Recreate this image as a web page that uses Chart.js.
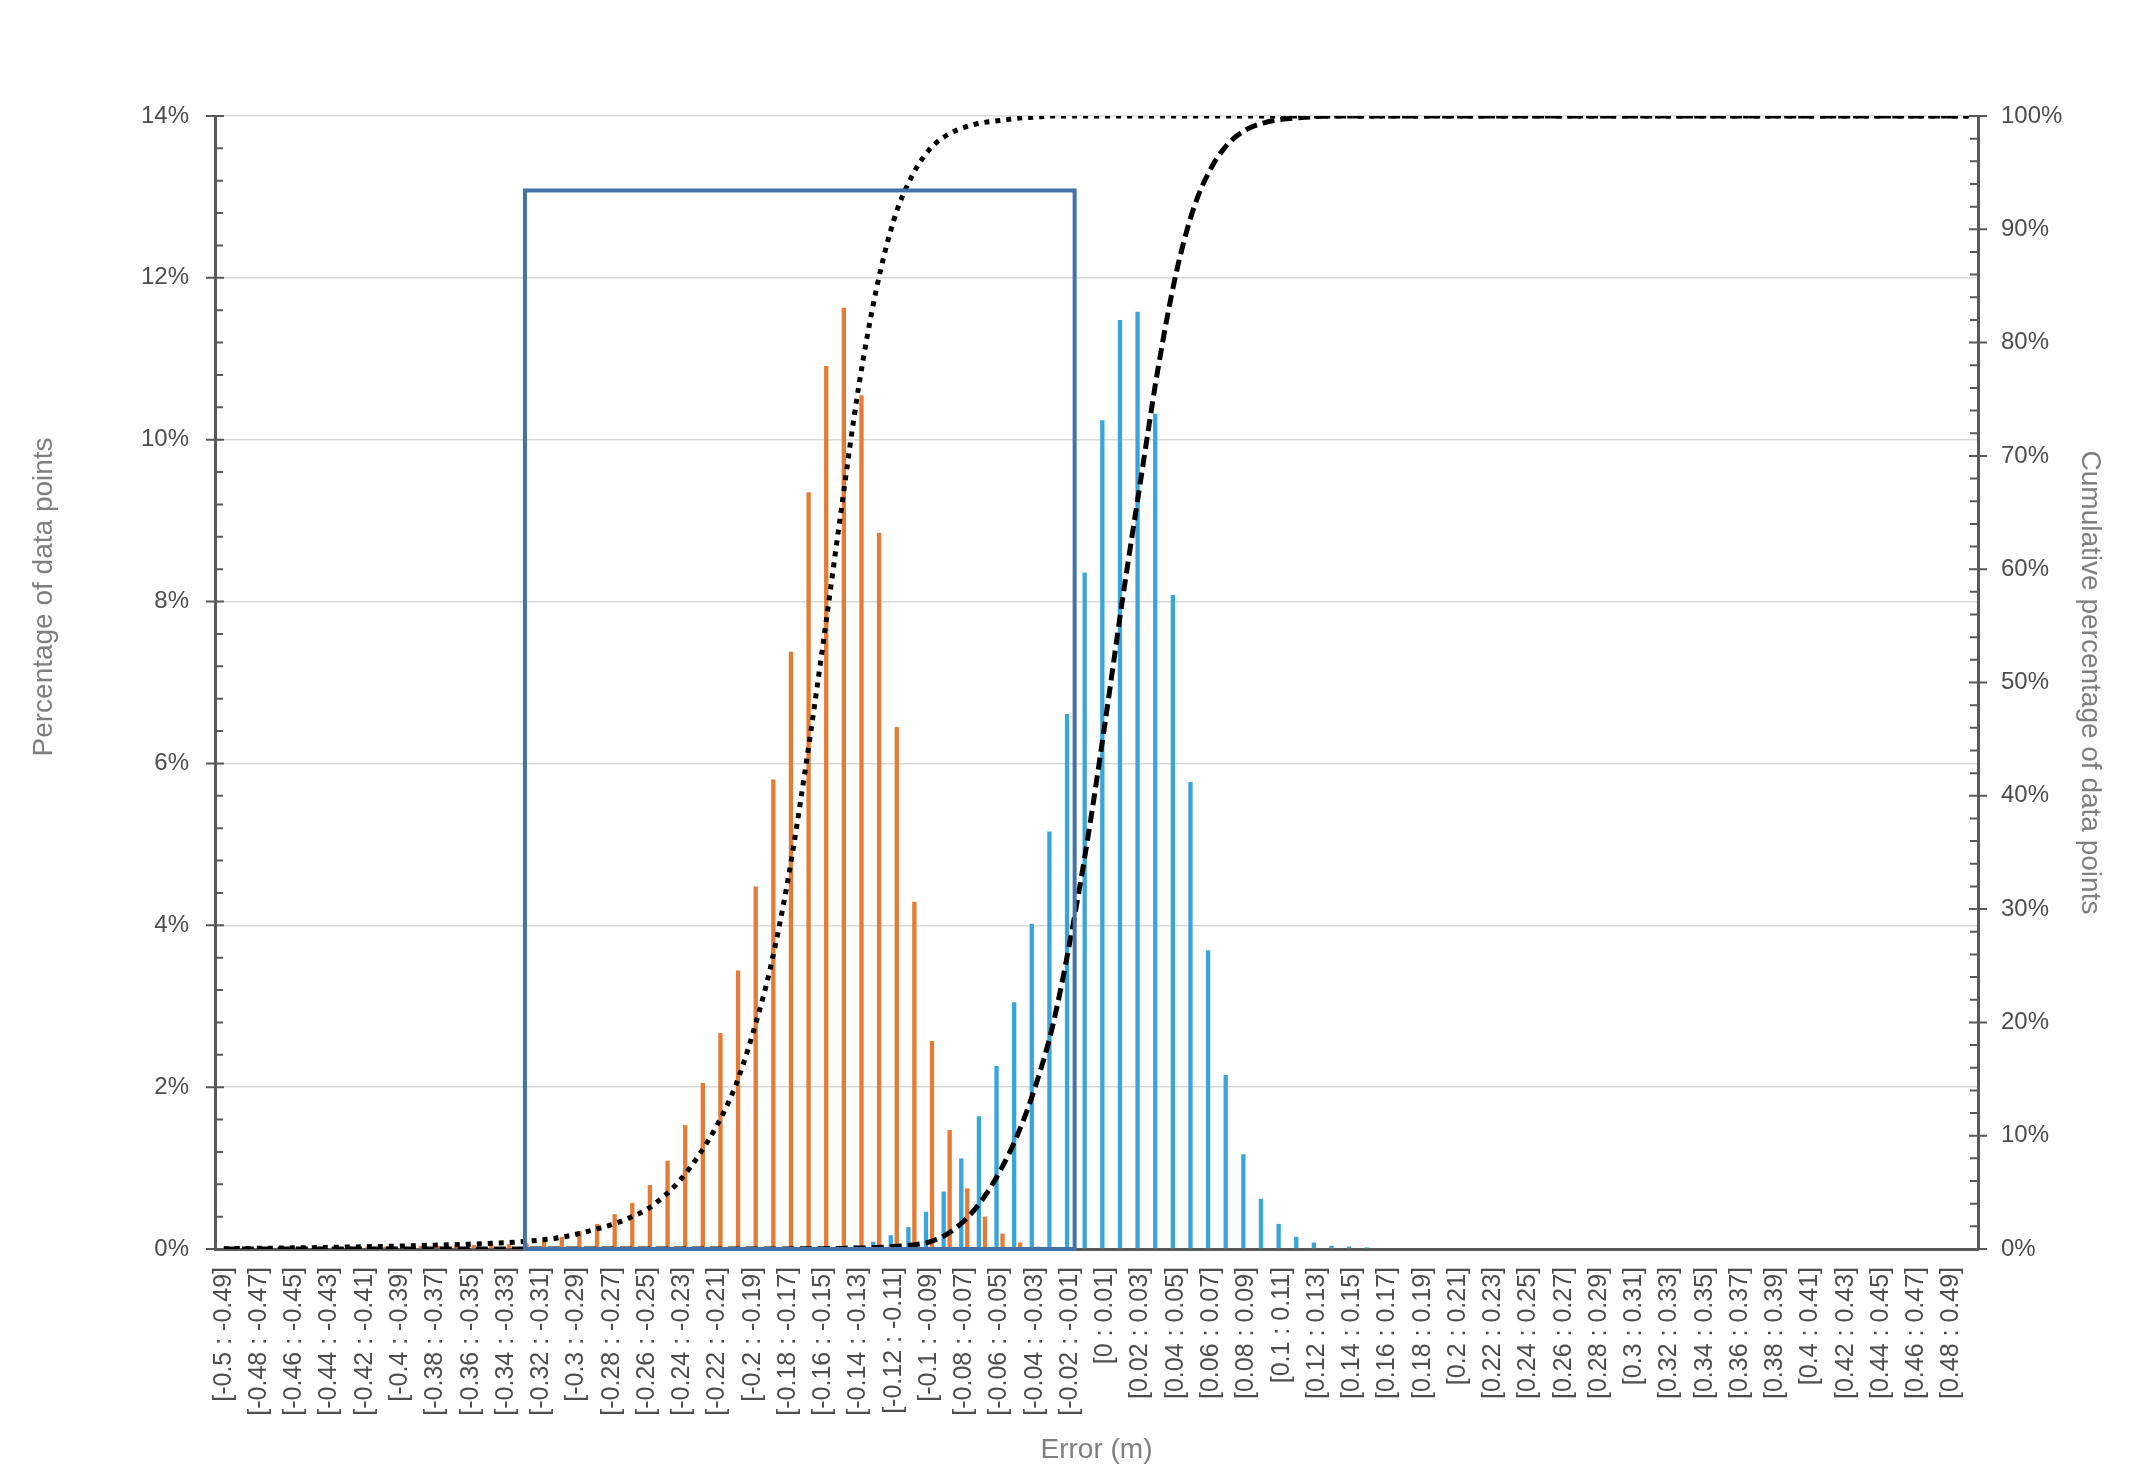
<!DOCTYPE html>
<html>
<head>
<meta charset="utf-8">
<script src="https://cdn.jsdelivr.net/npm/chart.js@4.4.1/dist/chart.umd.min.js"></script>
<style>
  html, body { margin: 0; padding: 0; background: #fff; }
  #wrap { width: 2149px; height: 1475px; }
</style>
</head>
<body>
<div id="wrap"><canvas id="errChart" width="2149" height="1475"></canvas></div>
<script>
// bins of 0.01 m, from -0.5 to 0.5
const binCount = 100;
const binStart = -0.5;
const binWidth = 0.01;

// percentage of data points per bin (left axis)
const orangePct = [
  0.02, 0.02, 0.02, 0.02, 0.02, 0.02, 0.02, 0.03, 0.03, 0.03,
  0.03, 0.04, 0.04, 0.05, 0.05, 0.06, 0.06, 0.07, 0.11, 0.15,
  0.22, 0.31, 0.43, 0.57, 0.79, 1.09, 1.53, 2.05, 2.67, 3.44,
  4.48, 5.80, 7.38, 9.35, 10.91, 11.63, 10.55, 8.85, 6.45, 4.29,
  2.57, 1.47, 0.75, 0.40, 0.19, 0.08, 0.03, 0.01, 0, 0,
  0, 0, 0, 0, 0, 0, 0, 0, 0, 0,
  0, 0, 0, 0, 0, 0, 0, 0, 0, 0,
  0, 0, 0, 0, 0, 0, 0, 0, 0, 0,
  0, 0, 0, 0, 0, 0, 0, 0, 0, 0,
  0, 0, 0, 0, 0, 0, 0, 0, 0, 0
];
const bluePct = [
  0, 0, 0, 0, 0, 0, 0, 0, 0, 0,
  0, 0, 0, 0, 0, 0, 0, 0, 0, 0,
  0, 0, 0, 0, 0, 0, 0, 0, 0, 0,
  0, 0, 0.01, 0.01, 0.02, 0.03, 0.05, 0.09, 0.17, 0.27,
  0.46, 0.71, 1.12, 1.64, 2.26, 3.05, 4.02, 5.16, 6.61, 8.36,
  10.24, 11.48, 11.58, 10.32, 8.08, 5.77, 3.69, 2.15, 1.17, 0.62,
  0.31, 0.15, 0.08, 0.04, 0.03, 0.02, 0.01, 0.01, 0, 0,
  0, 0, 0, 0, 0, 0, 0, 0, 0, 0,
  0, 0, 0, 0, 0, 0, 0, 0, 0, 0,
  0, 0, 0, 0, 0, 0, 0, 0, 0, 0
];

// cumulative percentage of data points (right axis)
const orangeCum = [
  0.02, 0.04, 0.06, 0.08, 0.10, 0.12, 0.14, 0.17, 0.20, 0.23,
  0.26, 0.30, 0.34, 0.38, 0.43, 0.49, 0.56, 0.66, 0.80, 1.00,
  1.30, 1.70, 2.15, 2.75, 3.5, 4.7, 6.3, 8.4, 11.0, 14.3,
  19.0, 24.8, 32.6, 42.5, 53.5, 65.0, 76.0, 84.6, 90.8, 94.6,
  97.0, 98.3, 99.0, 99.4, 99.6, 99.8, 99.9, 100, 100, 100,
  100, 100, 100, 100, 100, 100, 100, 100, 100, 100,
  100, 100, 100, 100, 100, 100, 100, 100, 100, 100,
  100, 100, 100, 100, 100, 100, 100, 100, 100, 100,
  100, 100, 100, 100, 100, 100, 100, 100, 100, 100,
  100, 100, 100, 100, 100, 100, 100, 100, 100, 100
];
const blueCum = [
  0, 0, 0, 0, 0, 0, 0, 0, 0, 0,
  0, 0, 0, 0, 0, 0, 0, 0, 0, 0,
  0, 0, 0, 0, 0, 0, 0, 0, 0, 0,
  0, 0, 0.01, 0.02, 0.03, 0.05, 0.08, 0.13, 0.22, 0.35,
  0.6, 1.3, 2.5, 4.3, 6.8, 10.0, 14.2, 19.6, 27.2, 36.2,
  46.6, 57.6, 67.8, 77.8, 86.0, 91.8, 95.4, 97.6, 98.8, 99.4,
  99.7, 99.85, 99.95, 100, 100, 100, 100, 100, 100, 100,
  100, 100, 100, 100, 100, 100, 100, 100, 100, 100,
  100, 100, 100, 100, 100, 100, 100, 100, 100, 100,
  100, 100, 100, 100, 100, 100, 100, 100, 100, 100
];

// highlighted region: from / to (bin index) and top (left-axis %)
const boxRange = [17.08, 48.26];
const boxTop = 13.08;

function fmt(v) {
  const r = Math.round(v * 100) / 100;
  return String(r === 0 ? 0 : r);
}
const categories = [];
for (let i = 0; i < binCount; i++) {
  const a = binStart + i * binWidth;
  categories.push('[' + fmt(a) + ' : ' + fmt(a + binWidth) + ']');
}

const FONT = "'Liberation Sans', Arial, sans-serif";

// major ticks crossing the axis, 4 minor ticks inside
const axisTicks = {
  id: 'axisTicks',
  afterDraw(chart) {
    const ctx = chart.ctx;
    ['y', 'y1'].forEach(id => {
      const s = chart.scales[id];
      const x = id === 'y' ? chart.chartArea.left : chart.chartArea.right;
      const dir = id === 'y' ? 1 : -1;
      const vals = s.ticks.map(t => t.value);
      ctx.save();
      ctx.strokeStyle = '#595959';
      ctx.lineWidth = 2;
      ctx.beginPath();
      vals.forEach((v, k) => {
        const py = s.getPixelForValue(v);
        ctx.moveTo(x - 9, py);
        ctx.lineTo(x + 9, py);
        if (k < vals.length - 1) {
          const step = (vals[k + 1] - v) / 5;
          for (let m = 1; m < 5; m++) {
            const my = s.getPixelForValue(v + m * step);
            ctx.moveTo(x, my);
            ctx.lineTo(x + dir * 8, my);
          }
        }
      });
      ctx.stroke();
      ctx.restore();
    });
  }
};

// left axis title sits above the centre in the original
const leftTitle = {
  id: 'leftTitle',
  afterDraw(chart) {
    const ctx = chart.ctx;
    const a = chart.chartArea;
    ctx.save();
    ctx.translate(44, a.top + (a.bottom - a.top) * 0.4245);
    ctx.rotate(-Math.PI / 2);
    ctx.font = '28px ' + FONT;
    ctx.fillStyle = '#7f7f7f';
    ctx.textAlign = 'center';
    ctx.textBaseline = 'middle';
    ctx.fillText('Percentage of data points', 0, 0);
    ctx.restore();
  }
};

const highlightBox = {
  id: 'highlightBox',
  afterDraw(chart) {
    const xs = chart.scales.x, ys = chart.scales.y;
    const x1 = xs.getPixelForValue(boxRange[0]);
    const x2 = xs.getPixelForValue(boxRange[1]);
    const y1 = ys.getPixelForValue(boxTop);
    const y2 = ys.getPixelForValue(0);
    const ctx = chart.ctx;
    ctx.save();
    ctx.strokeStyle = '#4472A8';
    ctx.lineWidth = 4;
    ctx.strokeRect(x1, y1, x2 - x1, y2 - y1);
    ctx.restore();
  }
};

new Chart(document.getElementById('errChart'), {
  type: 'bar',
  data: {
    labels: categories,
    datasets: [
      {
        type: 'line', data: orangeCum, yAxisID: 'y1', order: 0,
        borderColor: '#000', borderWidth: 5, borderDash: [5, 6], borderCapStyle: 'butt',
        pointRadius: 0, cubicInterpolationMode: 'monotone', fill: false
      },
      {
        type: 'line', data: blueCum, yAxisID: 'y1', order: 0,
        borderColor: '#000', borderWidth: 5, borderDash: [12, 6], borderCapStyle: 'butt',
        pointRadius: 0, cubicInterpolationMode: 'monotone', fill: false
      },
      {
        data: bluePct, yAxisID: 'y', order: 1,
        backgroundColor: '#38A6DA', borderWidth: 0,
        categoryPercentage: 0.68, barPercentage: 0.72
      },
      {
        data: orangePct, yAxisID: 'y', order: 1,
        backgroundColor: '#E57B36', borderWidth: 0,
        categoryPercentage: 0.68, barPercentage: 0.72
      }
    ]
  },
  options: {
    responsive: false,
    animation: false,
    devicePixelRatio: 1,
    layout: { padding: { top: 116, left: 0, right: 0, bottom: 0 } },
    plugins: { legend: { display: false }, tooltip: { enabled: false } },
    scales: {
      x: {
        offset: true,
        grid: { display: true, color: 'rgba(0,0,0,0)', drawTicks: false },
        border: { display: true, color: '#595959', width: 3 },
        ticks: {
          autoSkip: false, minRotation: 90, maxRotation: 90, padding: 18,
          color: '#4d4d4d', font: { family: FONT, size: 25 },
          callback: (v, i) => (i % 2 === 0 ? categories[i] : '')
        },
        title: {
          display: true, text: 'Error (m)', color: '#7f7f7f',
          font: { family: FONT, size: 28 }, padding: { top: 0, bottom: 8 }
        },
        afterFit: s => { s.height = 226; }
      },
      y: {
        position: 'left', min: 0, max: 14,
        grid: { color: '#d9d9d9', lineWidth: 1.5, drawTicks: false },
        border: { display: true, color: '#595959', width: 3 },
        ticks: {
          stepSize: 2, padding: 26, color: '#4d4d4d',
          font: { family: FONT, size: 24 }, callback: v => v + '%'
        },
        afterFit: s => { s.width = 215; }
      },
      y1: {
        position: 'right', min: 0, max: 100,
        grid: { drawOnChartArea: false, drawTicks: false },
        border: { display: true, color: '#595959', width: 3 },
        ticks: {
          stepSize: 10, padding: 23, color: '#4d4d4d',
          font: { family: FONT, size: 24 }, callback: v => v + '%'
        },
        title: {
          display: true, text: 'Cumulative percentage of data points', color: '#7f7f7f',
          font: { family: FONT, size: 28 }, padding: { top: 42, bottom: 0 }
        },
        afterFit: s => { s.width = 171; }
      }
    }
  },
  plugins: [axisTicks, leftTitle, highlightBox]
});
</script>
</body>
</html>
